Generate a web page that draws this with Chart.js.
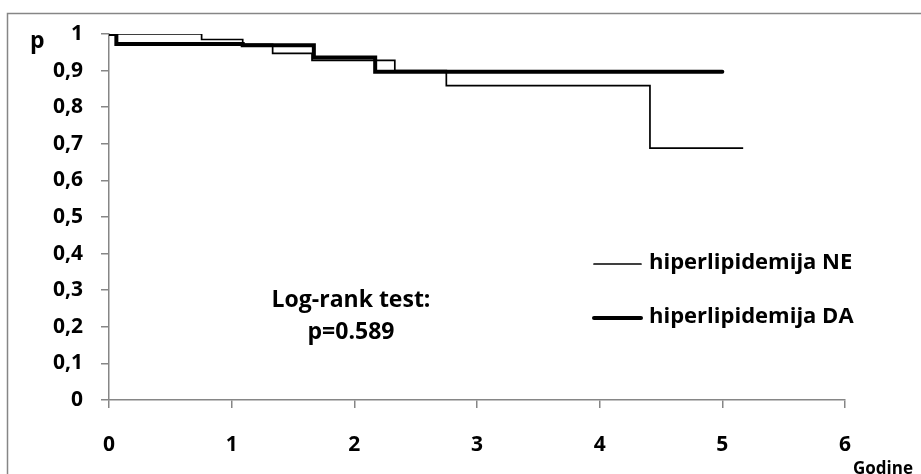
<!DOCTYPE html>
<html>
<head>
<meta charset="utf-8">
<script src="https://cdn.jsdelivr.net/npm/chart.js@4"></script>
<style>
  html, body { margin: 0; padding: 0; background: #fff; }
  #wrap { width: 921px; height: 474px; position: relative; }
</style>
</head>
<body>
<div id="wrap"><canvas id="kmChart" width="921" height="474"></canvas></div>
<script>
// survival steps (time in years, proportion surviving)
const timesNE = [0, 0.755, 1.09, 1.334, 1.655, 2.33, 2.75, 4.41, 5.17];
const survNE  = [1, 0.985, 0.972, 0.947, 0.928, 0.90, 0.859, 0.688, 0.688];
const timesDA = [0, 0.06, 1.09, 1.67, 2.17, 5.0];
const survDA  = [1, 0.973, 0.969, 0.936, 0.897, 0.897];
const seriesNames = ['hiperlipidemija NE', 'hiperlipidemija DA'];
const xTicks = [0, 1, 2, 3, 4, 5, 6];
const yTicks = [0, 0.1, 0.2, 0.3, 0.4, 0.5, 0.6, 0.7, 0.8, 0.9, 1];
const testLines = ['Log-rank test:', 'p=0.589'];

const FONT = '"Open Sans", "Noto Sans", sans-serif';
const axisGray = '#868686';

const toPoints = (xs, ys) => xs.map((t, i) => ({ x: t, y: ys[i] }));

// extra text + frame, drawn on top of the chart
const extras = {
    id: 'extras',
    afterDraw(chart) {
        const ctx = chart.ctx;
        ctx.save();
        // outer frame (picture is cropped on the right and bottom)
        ctx.strokeStyle = axisGray;
        ctx.lineWidth = 1.5;
        ctx.beginPath();
        ctx.moveTo(7.5, 480);
        ctx.lineTo(7.5, 13.5);
        ctx.lineTo(930, 13.5);
        ctx.stroke();

        ctx.fillStyle = '#000';
        ctx.textAlign = 'left';
        ctx.textBaseline = 'alphabetic';
        ctx.font = 'bold 23px ' + FONT;
        ctx.fillText('p', 30, 48);

        ctx.font = 'bold 17px ' + FONT;
        ctx.fillText('Godine', 853, 474);

        // log-rank annotation
        ctx.font = 'bold 23px ' + FONT;
        ctx.textAlign = 'center';
        ctx.fillText(testLines[0], 351, 307);
        ctx.fillText(testLines[1], 351, 339);

        // legend
        ctx.textAlign = 'left';
        ctx.textBaseline = 'middle';
        ctx.font = 'bold 22px ' + FONT;
        const rows = [264, 318];
        chart.data.datasets.forEach((ds, i) => {
            ctx.strokeStyle = ds.borderColor;
            ctx.lineWidth = ds.borderWidth;
            ctx.lineCap = 'round';
            ctx.beginPath();
            ctx.moveTo(594, rows[i]);
            ctx.lineTo(641, rows[i]);
            ctx.stroke();
            ctx.fillText(ds.label, 649, rows[i] - 1);
        });
        ctx.restore();
    }
};

new Chart(document.getElementById('kmChart'), {
    type: 'scatter',
    data: {
        datasets: [
            {
                label: seriesNames[0],
                data: toPoints(timesNE, survNE),
                showLine: true,
                stepped: 'before',
                borderColor: '#000',
                borderWidth: 1.7,
                pointRadius: 0,
                borderCapStyle: 'butt'
            },
            {
                label: seriesNames[1],
                data: toPoints(timesDA, survDA),
                showLine: true,
                stepped: 'before',
                borderColor: '#000',
                borderWidth: 4,
                pointRadius: 0,
                borderCapStyle: 'round'
            }
        ]
    },
    options: {
        responsive: false,
        animation: false,
        layout: { padding: { top: 34, right: 76, left: 0, bottom: 0 } },
        plugins: { legend: { display: false }, tooltip: { enabled: false } },
        scales: {
            x: {
                type: 'linear',
                min: 0, max: 6,
                afterBuildTicks: s => { s.ticks = xTicks.map(v => ({ value: v })); },
                afterFit: s => { s.height = 74; },
                grid: { drawOnChartArea: false, drawTicks: true, tickLength: 8, color: axisGray, lineWidth: 1.5 },
                border: { color: axisGray, width: 1.5 },
                ticks: { color: '#000', padding: 24, font: { family: FONT, size: 21, weight: 'bold' } }
            },
            y: {
                min: 0, max: 1,
                afterBuildTicks: s => { s.ticks = yTicks.map(v => ({ value: v })); },
                afterFit: s => { s.width = 109; },
                grid: { drawOnChartArea: false, drawTicks: true, tickLength: 8, color: axisGray, lineWidth: 1.5 },
                border: { color: axisGray, width: 1.5 },
                ticks: {
                    color: '#000', padding: 18,
                    font: { family: FONT, size: 21, weight: 'bold' },
                    callback: v => (v === 0 || v === 1) ? String(v) : v.toFixed(1).replace('.', ',')
                }
            }
        }
    },
    plugins: [extras]
});
</script>
</body>
</html>
